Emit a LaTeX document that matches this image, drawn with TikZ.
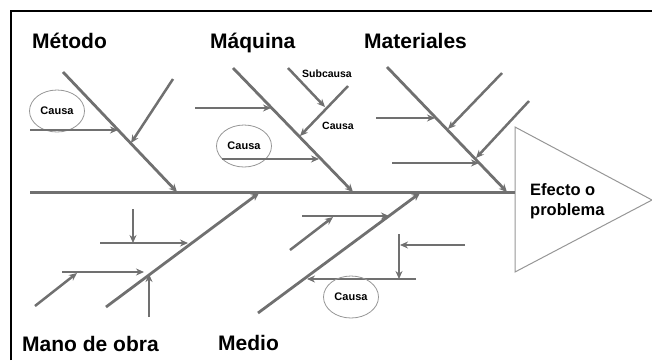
\documentclass[tikz,border=0pt]{standalone}
\usepackage{fontspec}
\setmainfont{Liberation Sans}
\usetikzlibrary{arrows.meta,shapes.geometric}
\definecolor{bone}{RGB}{112,112,112}
\definecolor{lite}{RGB}{150,150,150}
\begin{document}
\begin{tikzpicture}[x=1pt,y=-1pt,
  bonearrow/.style={draw=bone,line width=2.8pt,-{Stealth[length=8pt,width=7.5pt]}},
  causearrow/.style={draw=bone,line width=2.5pt,-{Stealth[length=8pt,width=7pt]}},
  plainbone/.style={draw=bone,line width=2.8pt},
  header/.style={font=\bfseries\fontsize{21}{24}\selectfont,inner sep=0pt,anchor=base west},
  smalltext/.style={font=\bfseries\fontsize{10.5}{12}\selectfont,inner sep=0pt,anchor=base},
  bubble/.style={draw=lite,line width=0.8pt,ellipse,minimum width=55pt,minimum height=42pt,inner sep=0pt,font=\bfseries\fontsize{11}{12}\selectfont},
  effect/.style={font=\bfseries\fontsize{16.5}{19.5}\selectfont,align=left,inner sep=0pt,anchor=base west}]
\useasboundingbox (0,0) rectangle (652,360);
% frame
\coordinate (fbl) at (11,360);
\coordinate (ftl) at (11,11);
\coordinate (ftr) at (652,11);
\draw[line width=2pt] (fbl) -- (ftl) -- (ftr);
% effect triangle
\coordinate (tt) at (515,127);
\coordinate (tb) at (515,272);
\coordinate (ta) at (652,200);
\draw[draw=lite,line width=1pt] (tt) -- (ta) -- (tb) -- cycle;
\node[effect] (efecto) at (530,215) {Efecto o\\problema};
% spine
\coordinate (s0) at (30,192);
\coordinate (s1) at (515,192);
\draw[plainbone,line width=3pt] (s0) -- (s1);
% headers
\node[header] (metodo) at (32,48.5) {Método};
\node[header] (maquina) at (210,48.5) {Máquina};
\node[header] (materiales) at (364,48.5) {Materiales};
\node[header] (manodeobra) at (22,351) {Mano de obra};
\node[header] (medio) at (218,350) {Medio};
% ---- Metodo
\coordinate (m0) at (63,72);
\coordinate (m1) at (177,192);
\draw[bonearrow] (m0) -- (m1);
\coordinate (ma0) at (173,79);
\coordinate (ma1) at (131,143);
\draw[causearrow] (ma0) -- (ma1);
\node[bubble] (c1) at (57,111) {Causa};
\coordinate (mb0) at (30,130);
\coordinate (mb1) at (118,130);
\draw[causearrow] (mb0) -- (mb1);
% ---- Maquina
\coordinate (q0) at (233,68);
\coordinate (q1) at (353,192);
\draw[bonearrow] (q0) -- (q1);
\coordinate (qa0) at (195,108);
\coordinate (qa1) at (271,108);
\draw[causearrow] (qa0) -- (qa1);
\coordinate (qs0) at (288,68);
\coordinate (qs1) at (325,107);
\draw[causearrow] (qs0) -- (qs1);
\node[smalltext] (subcausa) at (327,77) {Subcausa};
\coordinate (qb0) at (348,86);
\coordinate (qb1) at (300,136);
\draw[causearrow] (qb0) -- (qb1);
\node[smalltext] (causaq) at (338,129) {Causa};
\node[bubble] (c2) at (244,146) {Causa};
\coordinate (qc0) at (222,159);
\coordinate (qc1) at (319,159);
\draw[causearrow] (qc0) -- (qc1);
% ---- Materiales
\coordinate (t0) at (387,67);
\coordinate (t1) at (507,192);
\draw[bonearrow] (t0) -- (t1);
\coordinate (ta0) at (502,73);
\coordinate (ta1) at (448,129);
\draw[causearrow] (ta0) -- (ta1);
\coordinate (tb0) at (529,101);
\coordinate (tb1) at (476,158);
\draw[causearrow] (tb0) -- (tb1);
\coordinate (tc0) at (376,118);
\coordinate (tc1) at (435,118);
\draw[causearrow] (tc0) -- (tc1);
\coordinate (td0) at (392,163);
\coordinate (td1) at (479,163);
\draw[causearrow] (td0) -- (td1);
% ---- Mano de obra
\coordinate (o0) at (106,307);
\coordinate (o1) at (259,193);
\draw[bonearrow] (o0) -- (o1);
\coordinate (oa0) at (100,243);
\coordinate (oa1) at (188,243);
\draw[causearrow] (oa0) -- (oa1);
\coordinate (ob0) at (133,209);
\coordinate (ob1) at (133,243);
\draw[causearrow] (ob0) -- (ob1);
\coordinate (oc0) at (62,272);
\coordinate (oc1) at (144,272);
\draw[causearrow] (oc0) -- (oc1);
\coordinate (od0) at (35,306);
\coordinate (od1) at (77,273);
\draw[causearrow] (od0) -- (od1);
\coordinate (oe0) at (149,317);
\coordinate (oe1) at (149,274);
\draw[causearrow] (oe0) -- (oe1);
% ---- Medio
\coordinate (d0) at (258,313);
\coordinate (d1) at (420,193);
\draw[bonearrow] (d0) -- (d1);
\coordinate (da0) at (302,216);
\coordinate (da1) at (389,216);
\draw[causearrow] (da0) -- (da1);
\coordinate (db0) at (290,250);
\coordinate (db1) at (333,217);
\draw[causearrow] (db0) -- (db1);
\coordinate (dc0) at (416,279);
\coordinate (dc1) at (307,279);
\draw[causearrow] (dc0) -- (dc1);
\coordinate (dd0) at (399,234);
\coordinate (dd1) at (399,279);
\draw[causearrow] (dd0) -- (dd1);
\coordinate (de0) at (465,245);
\coordinate (de1) at (400,245);
\draw[causearrow] (de0) -- (de1);
\node[bubble] (c3) at (351,297) {Causa};
\end{tikzpicture}
\end{document}
